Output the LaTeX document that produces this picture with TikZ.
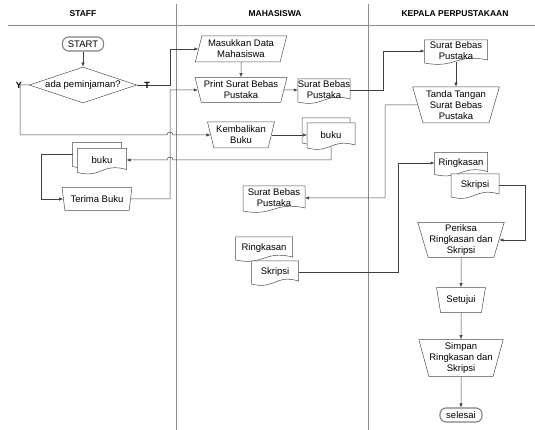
\documentclass[tikz,border=0pt]{standalone}
\usepackage{fontspec}
\setmainfont{Liberation Sans}
\usetikzlibrary{positioning,arrows.meta,shapes.geometric,calc}

% document symbol with a wavy lower edge
\makeatletter
\pgfdeclareshape{docshape}{%
  \inheritsavedanchors[from=rectangle]%
  \inheritanchorborder[from=rectangle]%
  \inheritanchor[from=rectangle]{center}%
  \inheritanchor[from=rectangle]{mid}%
  \inheritanchor[from=rectangle]{base}%
  \inheritanchor[from=rectangle]{north}%
  \inheritanchor[from=rectangle]{south}%
  \inheritanchor[from=rectangle]{east}%
  \inheritanchor[from=rectangle]{west}%
  \inheritanchor[from=rectangle]{north east}%
  \inheritanchor[from=rectangle]{north west}%
  \inheritanchor[from=rectangle]{south east}%
  \inheritanchor[from=rectangle]{south west}%
  \backgroundpath{%
    \southwest \edef\docxa{\the\pgf@x}\edef\docya{\the\pgf@y}%
    \northeast \edef\docxb{\the\pgf@x}\edef\docyb{\the\pgf@y}%
    \pgfmathsetmacro\docxc{(\docxa)/2+(\docxb)/2}%
    \pgfpathmoveto{\pgfpoint{\docxa}{\docyb}}%
    \pgfpathlineto{\pgfpoint{\docxb}{\docyb}}%
    \pgfpathlineto{\pgfpoint{\docxb}{\docya+2pt}}%
    \pgfpathcurveto{\pgfpoint{\docxc pt}{\docya+9pt}}{\pgfpoint{\docxc pt}{\docya-7pt}}{\pgfpoint{\docxa}{\docya-1pt}}%
    \pgfpathclose
  }%
}
\makeatother

\tikzset{
  flowarrow/.style={-{Latex[length=4pt,width=3.2pt]}, draw=black!75, line width=0.5pt},
  lanerule/.style={draw=black!45, line width=0.9pt},
  lanehead/.style={font=\fontsize{8.5}{10}\selectfont\bfseries},
  branchlabel/.style={font=\fontsize{9}{10}\selectfont\bfseries, inner sep=0pt},
  termnode/.style={draw=black!50, line width=1.1pt, rounded corners=6pt, fill=white, inner sep=1pt, minimum height=14pt},
  decnode/.style={diamond, aspect=3.6, draw=black!70, line width=0.5pt, fill=white, minimum width=106pt, minimum height=36pt, inner sep=0pt},
  manualnode/.style={trapezium, trapezium stretches=true, shape border rotate=180, trapezium left angle=72, trapezium right angle=72, draw=black!70, line width=0.5pt, fill=white, align=center, inner sep=0pt},
  datanode/.style={trapezium, trapezium stretches=true, trapezium left angle=73, trapezium right angle=107, draw=black!70, line width=0.5pt, fill=white, align=center, inner sep=0pt},
  docnode/.style={docshape, draw=black!70, line width=0.5pt, fill=white, align=center, inner sep=0pt, outer sep=0pt}
}

\begin{document}
\begin{tikzpicture}[x=1pt, y=-1pt, every node/.style={font=\fontsize{9.5}{11}\selectfont}]
  \useasboundingbox (0,0) rectangle (535,430);

  % lanes
  \draw[lanerule] (8,25) -- (535,25);
  \draw[lanerule] (176,4) -- (176,430);
  \draw[lanerule] (368,4) -- (368,430);
  \node[lanehead] (hStaff) at (83,14) {STAFF};
  \node[lanehead] (hMhs) at (275,14) {MAHASISWA};
  \node[lanehead] (hKepala) at (455,14) {KEPALA PERPUSTAKAAN};

  % staff
  \node[termnode, minimum width=41pt] (start) at (83,44) {START};
  \node[decnode] (dec) at (83,85) {ada peminjaman?};
  \node[docnode, minimum width=49pt, minimum height=23pt] (bukuSback) at (97,154) {};
  \node[docnode, minimum width=49pt, minimum height=23pt] (bukuS) at (102,160) {buku};
  \node[manualnode, minimum width=70pt, minimum height=23pt] (terima) at (97,199) {Terima Buku};

  % mahasiswa
  \node[datanode, minimum width=92pt, minimum height=26pt] (masuk) at (241,49) {Masukkan Data\\Mahasiswa};
  \node[manualnode, minimum width=92pt, minimum height=25pt] (print) at (241,90) {Print Surat Bebas\\Pustaka};
  \node[docnode, minimum width=50pt, minimum height=22pt] (sbMa) at (324,90) {Surat Bebas\\Pustaka};
  \node[manualnode, minimum width=67pt, minimum height=26pt] (kembali) at (241,135) {Kembalikan\\Buku};
  \node[docnode, minimum width=48pt, minimum height=24pt] (bukuMback) at (326,130) {};
  \node[docnode, minimum width=48pt, minimum height=24pt] (bukuM) at (331,135) {buku};
  \node[docnode, minimum width=62pt, minimum height=24pt] (sbMb) at (274,198) {Surat Bebas\\Pustaka};
  \node[docnode, minimum width=57pt, minimum height=22pt] (ringM) at (264,248) {Ringkasan};
  \node[docnode, minimum width=47pt, minimum height=22pt] (skripM) at (275,272) {Skripsi};

  % kepala perpustakaan
  \node[docnode, minimum width=63pt, minimum height=22pt] (sbK) at (456,51) {Surat Bebas\\Pustaka};
  \node[manualnode, minimum width=87pt, minimum height=36pt] (ttd) at (456,105) {Tanda Tangan\\Surat Bebas\\Pustaka};
  \node[docnode, minimum width=53pt, minimum height=21pt] (ringK) at (461,163) {Ringkasan};
  \node[docnode, minimum width=48pt, minimum height=22pt] (skripK) at (475,185) {Skripsi};
  \node[manualnode, minimum width=87pt, minimum height=35pt] (periksa) at (461,240) {Periksa\\Ringkasan dan\\Skripsi};
  \node[manualnode, minimum width=49pt, minimum height=25pt] (setuju) at (461,300) {Setujui};
  \node[manualnode, minimum width=85pt, minimum height=37pt] (simpan) at (461,358) {Simpan\\Ringkasan dan\\Skripsi};
  \node[termnode, minimum width=42pt] (selesai) at (461,415) {selesai};

  % flow
  \draw[flowarrow] (start) -- (dec);
  \draw[flowarrow] (dec.west) -- (20,85) -- (20,135) -- (167,135) .. controls (167,131) and (173,131) .. (173,135) -- (kembali.west);
  \draw[flowarrow] (dec.east) -- (170,85) |- (masuk.west);
  \node[branchlabel] (lblY) at (19,85) {Y};
  \node[branchlabel] (lblT) at (147,85) {T};
  \draw[flowarrow] (masuk) -- (print);
  \draw[flowarrow] (terima.east) -- (170,199) |- (print.west);
  \draw[flowarrow] (print) -- (sbMa);
  \draw[flowarrow] (sbMa.east) -- (383,90) |- (sbK.west);
  \draw[flowarrow] (sbK) -- (ttd);
  \draw[flowarrow] (ttd.west) -- (385,105) |- (sbMb.east);
  \draw[flowarrow] (kembali) -- (bukuM);
  \draw[flowarrow] (bukuM.south) -- (331,160) -- (173,160) .. controls (173,156) and (167,156) .. (167,160) -- (bukuS.east);
  \draw[flowarrow] (bukuSback.west) -- (41,154) |- (terima.west);
  \draw[flowarrow] (skripM.east) -- (398,272) |- (ringK.west);
  \draw[flowarrow] (skripK.east) -- (525,185) |- (periksa.east);
  \draw[flowarrow] (periksa) -- (setuju);
  \draw[flowarrow] (setuju) -- (simpan);
  \draw[flowarrow] (simpan) -- (selesai);
\end{tikzpicture}
\end{document}
